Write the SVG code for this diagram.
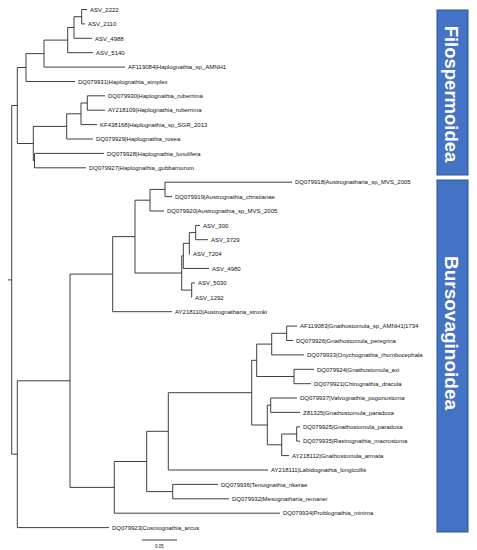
<svg xmlns="http://www.w3.org/2000/svg" width="477" height="550" viewBox="0 0 477 550">
<style>
.br{fill:none;stroke:#2a2a2a;stroke-width:0.9}
.lb{font-family:"Liberation Sans",Arial,sans-serif;font-size:6px;fill:#111}
.box{fill:#4472C4;stroke:#2F528F;stroke-width:1}
.cl{font-family:"Liberation Sans",Arial,sans-serif;font-weight:bold;fill:#fff;text-anchor:middle}
</style>
<rect width="477" height="550" fill="#fff"/>
<g id="connectors" class="br">
<path d="M87 9.5H81.7V23.9H85"/>
<path d="M81.7 16.7H74V38.3H92"/>
<path d="M74 27.5H67.7V52.7H93"/>
<path d="M67.7 40.1H44V67.1H125"/>
<path d="M44 53.6H26V81.5H75"/>
<path d="M105 95.8H87.3V110.2H105"/>
<path d="M87.3 103H81V124.6H97"/>
<path d="M81 113.8H66.7V139H93"/>
<path d="M104 153.4H34.5V167.8H86"/>
<path d="M66.7 126.4H33.3V160.6H34.5"/>
<path d="M26 67.5H17.3V143.5H33.3"/>
<path d="M17.3 105.5H11.7V454.2H17.3M8 279.9H11.7"/>
<path d="M292 182.2H165V196.6H172"/>
<path d="M165 189.4H150V211H164"/>
<path d="M200 225.4H195.7V239.7H208"/>
<path d="M195.7 232.6H189.3V254.1H190"/>
<path d="M189.3 243.3H183.3V268.5H209"/>
<path d="M195 282.9H191.7V297.3H192"/>
<path d="M183.3 255.9H181.7V290.1H191.7"/>
<path d="M150 200.2H135V273H181.7"/>
<path d="M135 236.6H112.7V311.7H172"/>
<path d="M297 326.1H286.7V340.5H293"/>
<path d="M286.7 333.3H271.7V354.9H304"/>
<path d="M314 369.3H294V383.7H311"/>
<path d="M271.7 344.1H256.7V376.5H294"/>
<path d="M297 398H270.7V412.4H300"/>
<path d="M300 426.8H296.7V441.2H300"/>
<path d="M296.7 434H281.7V455.6H289"/>
<path d="M270.7 405.2H267.3V444.8H281.7"/>
<path d="M256.7 360.3H251.7V425H267.3"/>
<path d="M251.7 392.7H168.3V470H268"/>
<path d="M218 484.4H172.7V498.8H229"/>
<path d="M168.3 431.3H146.7V491.6H172.7"/>
<path d="M146.7 461.5H114.3V513.2H280"/>
<path d="M112.7 274.1H70V487.4H114.3"/>
<path d="M70 380.8H17.3V527.6H109"/>
<path d="M142 540H177"/>
</g>
<g id="leaves" class="lb">
<g id="t0"><text x="90" y="11.7">ASV_2222</text></g>
<g id="t1"><text x="88" y="26.1">ASV_2110</text></g>
<g id="t2"><text x="95" y="40.5">ASV_4988</text></g>
<g id="t3"><text x="96" y="54.9">ASV_5140</text></g>
<g id="t4"><text x="128" y="69.3">AF119084|Haplognathia_sp_AMNH1</text></g>
<g id="t5"><text x="78" y="83.7">DQ079931|Haplognathia_simplex</text></g>
<g id="t6"><text x="108" y="98">DQ079930|Haplognathia_ruberrima</text></g>
<g id="t7"><text x="108" y="112.4">AY218109|Haplognathia_ruberrima</text></g>
<g id="t8"><text x="100" y="126.8">KF438168|Haplognathia_sp_SGR_2013</text></g>
<g id="t9"><text x="96" y="141.2">DQ079929|Haplognathia_rosea</text></g>
<g id="t10"><text x="107" y="155.6">DQ079928|Haplognathia_lunulifera</text></g>
<g id="t11"><text x="89" y="170">DQ079927|Haplognathia_gubbarnorum</text></g>
<g id="t12"><text x="295" y="184.4">DQ079918|Austrognatharia_sp_MVS_2005</text></g>
<g id="t13"><text x="175" y="198.8">DQ079919|Austrognathia_christianae</text></g>
<g id="t14"><text x="167" y="213.2">DQ079920|Austrognathia_sp_MVS_2005</text></g>
<g id="t15"><text x="203" y="227.6">ASV_300</text></g>
<g id="t16"><text x="211" y="241.9">ASV_3729</text></g>
<g id="t17"><text x="193" y="256.3">ASV_7204</text></g>
<g id="t18"><text x="212" y="270.7">ASV_4980</text></g>
<g id="t19"><text x="198" y="285.1">ASV_5030</text></g>
<g id="t20"><text x="195" y="299.5">ASV_1292</text></g>
<g id="t21"><text x="175" y="313.9">AY218110|Austrognatharia_strunki</text></g>
<g id="t22"><text x="300" y="328.3">AF119083|Gnathostomula_sp_AMNH1|1734</text></g>
<g id="t23"><text x="296" y="342.7">DQ079926|Gnathostomula_peregrina</text></g>
<g id="t24"><text x="307" y="357.1">DQ079933|Onychognathia_rhombocephala</text></g>
<g id="t25"><text x="317" y="371.5">DQ079924|Gnathostomula_axi</text></g>
<g id="t26"><text x="314" y="385.9">DQ079921|Chirognathia_dracula</text></g>
<g id="t27"><text x="300" y="400.2">DQ079937|Valvognathia_pogonostoma</text></g>
<g id="t28"><text x="303" y="414.6">Z81325|Gnathostomula_paradoxa</text></g>
<g id="t29"><text x="303" y="429">DQ079925|Gnathostomula_paradoxa</text></g>
<g id="t30"><text x="303" y="443.4">DQ079935|Rastrognathia_macrostoma</text></g>
<g id="t31"><text x="292" y="457.8">AY218112|Gnathostomula_armata</text></g>
<g id="t32"><text x="271" y="472.2">AY218111|Labidognathia_longicollis</text></g>
<g id="t33"><text x="221" y="486.6">DQ079936|Tenuignathia_rikerae</text></g>
<g id="t34"><text x="232" y="501">DQ079932|Mesognatharia_remanei</text></g>
<g id="t35"><text x="283" y="515.4">DQ079934|Problognathia_minima</text></g>
<g id="t36"><text x="112" y="529.8">DQ079923|Cosmognathia_arcus</text></g>
<g id="scale"><text x="159.5" y="547.5" style="font-size:4.5px" text-anchor="middle">0.05</text></g>
</g>
<g id="filospermoidea">
<rect class="box" x="437" y="10" width="31" height="165"/>
<text class="cl" font-size="18.5" transform="translate(445 94) rotate(90)">Filospermoidea</text>
</g>
<g id="bursovaginoidea">
<rect class="box" x="437" y="180" width="31" height="352"/>
<text class="cl" font-size="19" transform="translate(445 333) rotate(90)">Bursovaginoidea</text>
</g>
</svg>
